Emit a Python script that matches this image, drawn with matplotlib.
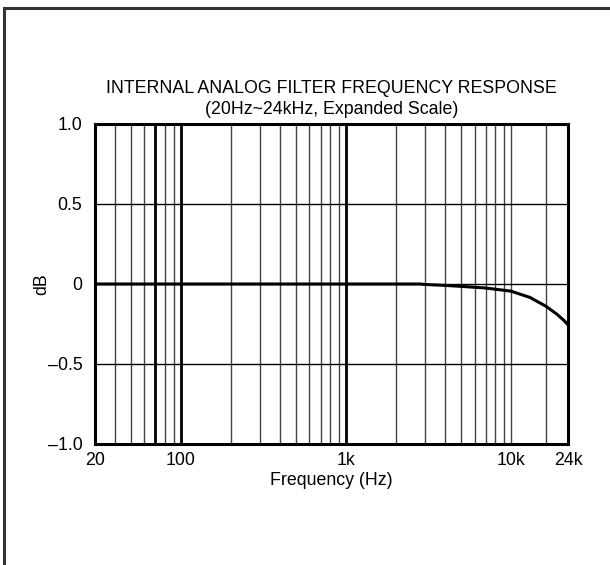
import numpy as np
import matplotlib
matplotlib.use("Agg")
import matplotlib.pyplot as plt
from matplotlib.lines import Line2D

plt.rcParams['font.family'] = ['Liberation Sans', 'DejaVu Sans']

# axis ends (the printed axis runs ~30 Hz .. ~22 kHz but is labelled 20 / 24k)
f_lo = 30.1
f_hi = 22100.0

# response curve (Hz, dB)
freq = [30.1, 100, 1000, 2000, 2800, 3000, 4000, 5000, 7000, 10000,
        13000, 16300, 19000, 21000, 22100]
resp = [0.0, 0.0, 0.0, 0.0, 0.0, -0.003, -0.009, -0.015, -0.025, -0.045,
        -0.084, -0.14, -0.19, -0.23, -0.255]

xtick_pos = [f_lo, 100, 1000, 10000, f_hi]
xtick_lab = ['20', '100', '1k', '10k', '24k']
ytick_pos = [-1.0, -0.5, 0.0, 0.5, 1.0]
ytick_lab = ['\u20131.0', '\u20130.5', '0', '0.5', '1.0']

# vertical grid lines (thin) and the heavier ones
grid_thin = [40, 50, 60, 80, 90, 200, 300, 400, 500, 600, 700, 800, 900,
             2000, 3000, 4000, 5000, 6000, 7000, 8000, 9000, 10000, 16300]
grid_thick = [70, 100, 1000]

fs = 12.8

fig = plt.figure(figsize=(6.1, 5.65), dpi=100)
ax = fig.add_axes([95/610, 1-444/565, (568-95)/610, (444-124)/565])

ax.set_xscale('log')
ax.set_xlim(f_lo, f_hi)
ax.set_ylim(-1.0, 1.0)

for g in grid_thin:
    ax.axvline(g, color='#444444', lw=1.0, zorder=1)
for g in grid_thick:
    ax.axvline(g, color='black', lw=2.0, zorder=1)
for g in [-0.5, 0.0, 0.5]:
    ax.axhline(g, color='black', lw=1.0, zorder=1)

ax.plot(freq, resp, color='black', lw=2.2, zorder=3)

ax.xaxis.set_major_locator(matplotlib.ticker.FixedLocator(xtick_pos))
ax.xaxis.set_minor_locator(matplotlib.ticker.NullLocator())
ax.set_xticks(xtick_pos)
ax.set_xticklabels(xtick_lab)
ax.set_yticks(ytick_pos)
ax.set_yticklabels(ytick_lab)
ax.tick_params(length=0, labelsize=fs, pad=6)
ax.tick_params(axis='y', pad=9)

for s in ax.spines.values():
    s.set_linewidth(2.2)
    s.set_color('black')

ax.set_xlabel('Frequency (Hz)', fontsize=fs, labelpad=2)
ax.set_ylabel('dB', fontsize=fs)
ax.yaxis.set_label_coords(-0.094, 0.5)
ax.set_title('INTERNAL ANALOG FILTER FREQUENCY RESPONSE\n(20Hz~24kHz, Expanded Scale)',
             fontsize=fs, pad=7, linespacing=1.3)

# outer frame (top and left edges only are visible)
fig.add_artist(Line2D([4/610, 1.0], [1-8/565, 1-8/565], color='#333333', lw=2.2,
                      transform=fig.transFigure))
fig.add_artist(Line2D([4/610, 4/610], [0.0, 1-8/565], color='#333333', lw=2.2,
                      transform=fig.transFigure))

fig.savefig('out.png', dpi=100, facecolor='white')
